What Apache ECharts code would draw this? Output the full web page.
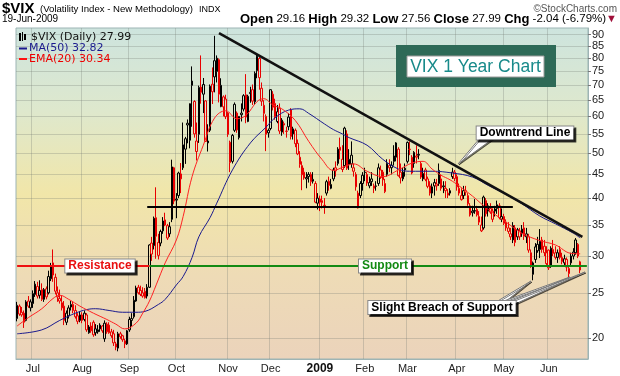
<!DOCTYPE html>
<html><head><meta charset="utf-8">
<script src="https://cdn.jsdelivr.net/npm/echarts@6/dist/echarts.min.js"></script>
<style>html,body{margin:0;padding:0;background:#fff;}#c{width:620px;height:376px;}</style>
</head><body><div id="c"></div>
<script>
// ---------- DATA ----------
const startDate = '2008-06-20';
const endDate = '2009-06-19';
const holidays = ['2008-07-04','2008-09-01','2008-11-27','2008-12-25','2009-01-01','2009-01-19','2009-02-16','2009-04-10','2009-05-25'];
const padCategories = ['+1','+2','+3'];
const monthNames = ['Jan','Feb','Mar','Apr','May','Jun','Jul','Aug','Sep','Oct','Nov','Dec'];
const yTicks = [20,25,30,35,40,45,50,55,60,65,70,75,80,85,90];
const yMinValue = 18.0, yMaxValue = 93.04;

const opens = [
22.0,23.4,22.7,22.6,21.8,24.0,23.2,23.7,24.8,25.8,
24.7,25.4,24.2,25.5,25.0,26.8,29.0,27.0,25.0,24.3,
23.8,23.4,21.6,22.3,23.3,23.6,22.9,22.3,21.8,22.4,
21.9,22.4,20.5,21.2,21.6,20.9,20.6,20.9,21.2,19.9,
21.4,21.3,20.6,20.4,19.4,19.0,20.4,20.2,19.7,19.4,
20.8,21.8,22.2,24.0,25.7,25.3,25.0,25.2,24.6,25.7,
32.0,31.6,36.3,30.1,32.0,34.0,35.9,34.9,33.5,36.0,
46.5,39.6,40.5,44.0,46.5,51.0,58.0,53.3,71.5,64.6,
50.4,54.9,69.4,67.0,64.8,52.6,56.0,70.4,73.0,75.0,
79.5,63.0,66.1,65.4,61.0,52.8,48.0,56.0,61.0,54.0,
60.5,62.2,66.8,58.5,67.2,68.5,64.5,75.3,80.0,69.0,
63.4,60.0,56.0,56.5,67.0,64.0,58.5,62.5,55.5,57.5,
55.8,57.0,62.0,55.0,56.0,52.5,49.0,47.0,45.5,44.0,
44.5,45.0,43.5,43.0,39.0,39.8,39.5,38.5,41.0,43.5,
42.0,44.0,46.5,47.5,51.5,48.5,47.0,55.0,48.5,49.5,
46.5,45.0,41.0,40.5,43.0,45.5,45.0,42.5,44.0,42.5,
42.5,43.0,46.0,45.5,43.0,45.0,47.0,46.5,48.0,49.0,
51.0,45.5,44.0,46.0,48.0,51.0,49.0,47.5,49.0,49.5,
47.5,44.0,46.0,44.0,42.5,41.0,42.5,42.5,43.0,44.0,
42.5,42.0,41.0,41.5,44.5,45.5,44.5,42.0,40.5,40.5,
41.5,40.5,38.5,37.5,37.5,37.8,36.5,35.0,34.5,39.5,
37.5,38.0,37.5,37.5,38.0,38.5,36.0,36.5,35.5,34.5,
33.5,32.5,34.5,33.0,34.0,33.5,34.5,33.0,33.0,30.5,
27.4,29.5,30.8,31.0,32.5,31.5,30.5,30.9,28.5,31.0,
30.5,29.8,31.0,29.8,29.0,29.5,27.5,29.0,30.0,30.5,
31.8,29.16];
const highs = [
23.9,23.6,23.3,22.9,24.1,24.6,24.2,25.3,26.5,26.4,
26.6,26.2,25.6,25.8,27.9,29.0,31.0,27.5,25.8,25.4,
24.6,24.0,22.9,23.5,24.0,23.9,23.5,22.6,22.8,22.7,
22.9,22.6,21.3,21.6,21.8,21.4,21.3,21.5,21.3,21.8,
21.6,21.6,20.9,20.8,19.6,20.6,20.6,20.3,19.9,20.8,
22.2,22.6,24.6,25.9,26.0,25.9,25.7,25.6,26.1,31.8,
33.0,36.5,42.2,33.5,34.2,36.4,37.2,35.2,35.5,48.4,
46.7,41.0,45.6,47.6,58.2,54.2,59.1,64.0,76.9,65.0,
58.2,69.9,81.2,72.6,65.0,57.7,70.3,76.5,89.5,81.2,
80.0,72.5,66.6,66.8,61.3,53.2,55.0,64.3,61.5,60.0,
64.0,67.0,74.0,66.8,69.5,70.3,75.0,81.5,81.4,71.0,
65.0,60.6,56.5,68.6,68.0,65.5,63.5,64.0,59.5,58.5,
57.0,61.0,62.5,57.0,56.5,53.5,50.5,48.0,46.5,45.5,
45.5,45.5,45.5,43.5,41.0,40.5,40.5,40.0,43.8,44.5,
44.0,46.5,48.0,51.5,54.0,52.0,57.0,56.0,51.0,53.0,
47.5,45.5,41.5,43.5,45.5,46.5,45.5,44.5,45.5,43.0,
43.5,47.5,47.0,46.0,44.0,48.5,48.5,48.0,52.0,52.8,
51.5,47.5,46.5,47.5,53.0,53.0,49.5,50.5,52.0,51.0,
48.0,46.5,46.5,44.5,43.5,43.0,44.0,44.0,47.5,45.0,
43.5,43.5,41.8,42.0,46.5,46.0,45.0,43.0,42.0,42.5,
42.5,41.0,39.0,38.5,39.8,38.5,37.5,36.5,40.5,40.0,
39.0,39.0,38.0,38.5,39.5,39.0,38.0,37.0,36.0,35.5,
34.5,35.5,35.0,34.5,34.5,35.0,35.5,34.5,33.5,31.0,
29.2,32.0,33.0,34.3,33.0,32.5,31.5,31.0,31.5,32.5,
31.5,31.0,31.5,30.5,30.2,29.8,28.6,30.5,31.2,32.8,
32.0,29.32];
const lows = [
21.7,22.3,22.2,21.0,21.7,23.2,22.8,23.2,24.5,24.3,
24.3,24.0,23.9,24.2,24.8,26.5,26.4,24.8,23.9,23.7,
22.9,21.3,21.3,22.0,22.9,22.6,22.0,21.4,21.6,21.5,
21.7,20.6,20.4,20.5,20.1,20.2,20.4,20.6,20.5,19.6,
20.4,20.4,20.0,19.2,18.8,18.7,19.9,19.6,19.0,19.3,
20.6,21.2,22.0,23.9,24.8,24.6,24.4,24.3,24.3,25.6,
29.3,31.0,29.6,29.5,31.5,33.5,34.8,32.5,33.0,35.5,
38.8,36.2,40.0,41.0,46.0,47.4,52.5,51.2,57.0,54.0,
48.2,52.6,63.9,61.0,52.9,50.4,55.5,63.8,67.6,71.0,
64.3,62.8,60.0,59.2,54.2,45.5,47.5,55.5,55.3,53.5,
58.5,61.5,58.0,58.3,64.2,63.5,63.5,72.5,68.5,63.2,
58.5,50.5,54.0,56.0,61.8,59.0,58.0,55.0,54.5,55.0,
54.0,56.0,53.5,53.5,51.5,49.5,46.5,41.6,43.8,42.0,
43.2,42.5,43.0,39.0,37.8,37.5,38.0,37.0,40.5,41.5,
41.8,43.5,44.5,47.0,48.5,45.5,46.5,46.0,46.0,46.5,
44.5,41.5,38.0,40.0,41.5,43.5,42.5,42.0,42.5,41.0,
41.5,42.5,44.0,42.5,41.0,44.5,45.5,45.0,47.0,48.0,
44.5,43.0,43.5,44.5,47.5,49.5,45.0,46.5,47.5,48.5,
44.0,43.5,43.5,42.0,40.5,40.0,40.5,41.5,42.5,41.5,
41.0,40.0,40.0,40.5,44.0,43.5,41.5,40.5,39.5,39.8,
40.5,38.5,36.5,36.5,37.0,36.5,35.0,33.8,34.2,36.5,
36.5,37.0,35.5,36.5,37.0,36.0,35.5,35.0,34.0,33.5,
32.5,32.0,31.5,32.5,32.5,33.0,32.5,32.0,30.5,28.3,
26.6,29.0,30.5,29.7,30.5,30.0,28.5,28.0,28.3,30.0,
29.5,29.0,29.5,28.8,28.5,27.8,26.7,28.5,29.5,30.2,
29.7,27.56];
const closes = [
23.5,22.5,22.4,21.6,23.9,23.4,23.9,24.9,26.1,24.6,
25.3,24.2,25.4,24.5,27.1,28.5,27.3,25.2,24.5,24.0,
23.2,21.8,22.6,23.2,23.6,22.9,22.2,21.7,22.4,21.8,
22.6,20.8,21.1,20.7,20.3,20.5,20.8,21.3,20.7,21.5,
20.6,20.5,20.2,19.5,19.1,20.4,20.1,19.8,19.4,20.7,
21.9,22.0,24.1,25.6,25.0,24.8,24.6,24.4,25.7,31.7,
30.3,36.2,33.1,32.1,33.9,35.7,35.0,32.8,34.7,46.7,
39.4,39.8,45.3,45.1,52.1,53.7,57.5,63.9,70.0,55.0,
53.1,69.3,67.6,70.3,53.0,53.1,69.7,67.8,79.1,80.1,
67.0,70.0,62.9,59.9,54.9,47.7,54.6,63.7,56.1,60.0,
61.0,66.5,59.8,66.3,67.6,64.7,74.3,80.9,72.7,64.7,
60.9,54.9,55.3,68.5,62.8,59.9,61.4,55.8,58.9,57.9,
55.7,59.8,54.3,56.4,52.4,49.8,47.3,44.9,44.2,44.3,
45.0,43.4,43.9,39.2,40.0,39.2,39.1,38.6,43.4,42.6,
42.8,46.0,45.8,51.0,50.7,46.1,56.6,46.4,47.3,47.4,
45.7,42.3,38.1,43.0,44.8,45.4,43.1,43.2,43.4,42.0,
42.4,46.5,44.3,43.8,41.3,47.5,46.5,47.1,49.3,52.6,
44.7,44.2,45.5,46.4,52.7,50.9,45.3,50.2,49.3,49.7,
44.4,45.2,43.9,42.4,41.0,42.3,43.2,42.9,45.9,42.0,
42.3,41.5,40.6,41.0,45.5,44.1,42.3,41.0,39.7,41.5,
41.2,38.9,36.8,37.2,37.6,36.8,35.5,34.0,40.2,37.0,
38.5,37.3,36.0,37.9,38.7,36.3,36.5,35.3,34.5,33.9,
33.0,34.9,32.1,34.2,33.0,34.3,33.1,33.5,30.9,28.5,
29.0,31.4,31.8,32.3,31.0,30.5,28.9,28.3,31.2,30.4,
29.8,30.5,29.8,29.2,29.6,28.4,28.2,30.0,30.6,32.5,
30.0,27.99];

const maDates = ['2008-06-20','2008-07-08','2008-07-18','2008-07-29','2008-08-05','2008-08-11','2008-08-19','2008-08-27','2008-09-05','2008-09-11','2008-09-19','2008-09-24','2008-10-01','2008-10-06','2008-10-10','2008-10-15','2008-10-22','2008-10-27','2008-11-05','2008-11-17','2008-11-26','2008-12-03','2008-12-11','2008-12-18','2008-12-24','2009-01-06','2009-01-12','2009-01-16','2009-01-22','2009-02-03','2009-02-12','2009-02-24','2009-03-03','2009-03-17','2009-03-30','2009-04-13','2009-04-22','2009-05-04','2009-05-13','2009-05-26','2009-06-04','2009-06-16','2009-06-19'];
const maValues = [20.4,20.8,21.8,22.6,23.0,23.1,22.9,22.7,22.7,22.8,23.6,24.2,26.0,27.1,29.8,33.0,36.3,39.0,46.0,52.6,56.9,59.6,61.9,62.3,60.9,57.8,56.2,55.0,54.0,52.0,48.5,46.2,45.7,45.7,45.3,44.4,42.6,40.7,38.9,36.6,35.2,33.6,32.82];

const emaDates = ['2008-06-20','2008-06-27','2008-07-08','2008-07-15','2008-07-18','2008-07-24','2008-07-31','2008-08-08','2008-08-18','2008-08-22','2008-08-28','2008-09-05','2008-09-10','2008-09-15','2008-09-18','2008-09-24','2008-10-01','2008-10-06','2008-10-10','2008-10-17','2008-10-24','2008-10-31','2008-11-07','2008-11-13','2008-11-20','2008-11-25','2008-12-02','2008-12-08','2008-12-16','2008-12-24','2009-01-05','2009-01-12','2009-01-20','2009-01-26','2009-02-03','2009-02-12','2009-02-24','2009-03-04','2009-03-11','2009-03-17','2009-03-23','2009-03-27','2009-04-02','2009-04-13','2009-04-22','2009-05-04','2009-05-13','2009-05-26','2009-06-04','2009-06-15','2009-06-19'];
const emaValues = [21.2,22.1,23.1,24.3,24.7,24.2,23.4,22.6,21.9,21.4,20.9,21.5,22.6,24.0,26.0,29.0,32.5,36.5,44.5,52.0,59.5,61.7,59.3,60.3,64.6,65.5,63.5,62.3,58.8,53.0,48.4,45.9,46.8,47.4,45.7,44.5,46.0,47.6,48.0,46.2,44.8,43.8,42.5,40.4,37.8,35.5,33.6,32.4,31.7,30.4,30.34];

const supportLevel = 28.6;
const supportStart = '2008-09-15';
const midLevel = 38.3, midStart = '2008-09-12', midEnd = '2009-05-07';
const trendStart = ['2008-10-28', 90.7], trendEnd = ['+1', 33.0];

const headerTitle = '$VIX', headerName = '(Volatility Index - New Methodology)', headerExch = 'INDX';
const headerDate = '19-Jun-2009', headerCredit = '\u00a9StockCharts.com';
const quote = {Open:'29.16', High:'29.32', Low:'27.56', Close:'27.99', Chg:'-2.04 (-6.79%)'};
const legendTexts = ['$VIX (Daily) 27.99','MA(50) 32.82','EMA(20) 30.34'];

// ---------- BUILD ----------
function fmt(d){return d.toISOString().slice(0,10);}
const dates = [];
for (let d = new Date(startDate+'T00:00:00Z'); fmt(d) <= endDate; d.setUTCDate(d.getUTCDate()+1)) {
  const wd = d.getUTCDay(), s = fmt(d);
  if (wd===0 || wd===6 || holidays.includes(s)) continue;
  dates.push(s);
}
const categories = dates.concat(padCategories);
const monthStart = new Set();
for (let i=1;i<dates.length;i++) if (dates[i].slice(5,7)!==dates[i-1].slice(5,7)) monthStart.add(i);

const L = Math.log;
const BLACK = '#000000', RED = '#e80000';
const candleData = dates.map((d,i)=>{
  const up = i===0 || closes[i] >= closes[i-1];
  const c = up ? BLACK : RED;
  return {value:[L(opens[i]), L(closes[i]), L(lows[i]), L(highs[i])],
    itemStyle:{color:'rgba(0,0,0,0)', color0:c, borderColor:c, borderColor0:c, borderColorDoji:c}};
});
const maData = maDates.map((d,k)=>[d, L(maValues[k])]);
const emaData = emaDates.map((d,k)=>[d, L(emaValues[k])]);

const chart = echarts.init(document.getElementById('c'), null, {renderer:'canvas'});
const gridColor = 'rgba(110,120,110,0.28)';
const boxStyle = {backgroundColor:'#fff', borderColor:'#888', borderWidth:1, padding:[1,3,0,3],
  shadowColor:'rgba(0,0,0,0.75)', shadowOffsetX:2, shadowOffsetY:2, shadowBlur:0};

const quoteRich = Object.keys(quote).map(k=>'{b|'+k+'} '+quote[k]).join(' ') + '{a|\u25bc}';

chart.setOption({
  animation:false,
  grid:{left:16, right:32, top:28, bottom:17, show:true,
    backgroundColor: new echarts.graphic.LinearGradient(0,0,0,1,[
      {offset:0, color:'#cde4de'},{offset:0.25, color:'#dee8cd'},{offset:0.5, color:'#f1e6a9'},
      {offset:0.75, color:'#eedbb6'},{offset:1, color:'#ebd3bb'}]),
    borderColor:'#9db4b4', borderWidth:1},
  xAxis:{type:'category', data:categories, boundaryGap:true,
    axisLine:{show:true, lineStyle:{color:'#9db4b4'}},
    axisTick:{show:false},
    axisLabel:{interval:(i)=>monthStart.has(i), margin:4, color:'#222', fontSize:11, fontFamily:'Liberation Sans',
      formatter:(v)=>{const m=parseInt(v.slice(5,7),10); return m===1 ? '{b|'+v.slice(0,4)+'}' : monthNames[m-1];},
      rich:{b:{fontWeight:'bold', fontSize:12, fontFamily:'Liberation Sans', color:'#111'}}},
    splitLine:{show:true, interval:(i)=>monthStart.has(i), lineStyle:{color:gridColor, width:1}}},
  yAxis:{type:'value', position:'right', min:L(yMinValue), max:L(yMaxValue),
    axisLine:{show:true, lineStyle:{color:'#9db4b4'}},
    axisTick:{show:true, customValues:yTicks.map(L), length:3, lineStyle:{color:'#777'}},
    axisLabel:{customValues:yTicks.map(L), formatter:(v)=>String(Math.round(Math.exp(v))), margin:4,
      color:'#222', fontSize:11, fontFamily:'Liberation Sans'},
    splitLine:{show:true, lineStyle:{color:gridColor, width:1}}},
  series:[
    {type:'candlestick', data:candleData, barWidth:2, itemStyle:{borderWidth:1}, z:2},
    {type:'line', data:maData, smooth:0.4, showSymbol:false, symbol:'none', z:3,
      lineStyle:{color:'#1a1a8e', width:1}},
    {type:'line', data:emaData, smooth:0.4, showSymbol:false, symbol:'none', z:3,
      lineStyle:{color:'#ff2222', width:1}},
    {type:'line', data:[], z:5, markLine:{silent:true, symbol:['none','none'], label:{show:false}, animation:false,
      data:[
        [{coord:[dates[0], L(supportLevel)], lineStyle:{color:'#ee1111', width:2, type:'solid'}}, {coord:[supportStart, L(supportLevel)]}],
        [{coord:[supportStart, L(supportLevel)], lineStyle:{color:'#138a13', width:2, type:'solid'}}, {coord:[padCategories[2], L(supportLevel)]}],
        [{coord:[midStart, L(midLevel)], lineStyle:{color:'#000', width:2, type:'solid'}}, {coord:[midEnd, L(midLevel)]}],
        [{coord:[trendStart[0], L(trendStart[1])], lineStyle:{color:'#111', width:2.5, type:'solid'}}, {coord:[trendEnd[0], L(trendEnd[1])]}]
      ]}}
  ],
  graphic:[
    // header
    {type:'text', x:2, y:9, z:50, style:{text:headerTitle, font:'bold 15px Arial', fill:'#000', verticalAlign:'middle'}},
    {type:'text', x:40, y:9.5, z:50, style:{text:headerName, font:'9.6px Arial', fill:'#000', verticalAlign:'middle'}},
    {type:'text', x:199, y:9.5, z:50, style:{text:headerExch, font:'9px Arial', fill:'#000', verticalAlign:'middle'}},
    {type:'text', x:617, y:9, z:50, style:{text:headerCredit, font:'10px Arial', fill:'#555', align:'right', verticalAlign:'middle'}},
    {type:'text', x:2, y:19, z:50, style:{text:headerDate, font:'10px Arial', fill:'#000', verticalAlign:'middle'}},
    {type:'text', x:617, y:19, z:50, style:{text:quoteRich, font:'11.5px Arial', fill:'#000', align:'right', verticalAlign:'middle',
      rich:{b:{font:'bold 13px Arial', fill:'#000'}, a:{font:'11px Arial', fill:'#a0103a'}}}},
    // legend
    {type:'rect', z:50, shape:{x:19, y:33, width:2, height:8}, style:{fill:'#000'}},
    {type:'rect', z:50, shape:{x:22, y:32, width:1, height:9}, style:{fill:'#000'}},
    {type:'rect', z:50, shape:{x:24, y:34, width:2, height:6}, style:{fill:'#000'}},
    {type:'text', x:31, y:37.5, z:50, style:{text:legendTexts[0], font:'11px "DejaVu Sans"', fill:'#111', verticalAlign:'middle'}},
    {type:'rect', z:50, shape:{x:19, y:47.5, width:8, height:2}, style:{fill:'#1a1a8e'}},
    {type:'text', x:29, y:48.5, z:50, style:{text:legendTexts[1], font:'11px "DejaVu Sans"', fill:'#1a1a8e', verticalAlign:'middle'}},
    {type:'rect', z:50, shape:{x:19, y:58, width:8, height:2}, style:{fill:'#ff1111'}},
    {type:'text', x:29, y:59, z:50, style:{text:legendTexts[2], font:'11px "DejaVu Sans"', fill:'#ee0000', verticalAlign:'middle'}},
    // title box
    {type:'rect', z:60, shape:{x:396, y:45, width:160, height:42}, style:{fill:'#2e6a57'}},
    {type:'rect', z:61, shape:{x:407, y:56, width:137, height:21}, style:{fill:'#fff', stroke:'#9a9a9a', lineWidth:1}},
    {type:'text', x:475.5, y:67, z:62, style:{text:'VIX 1 Year Chart', font:'17.5px Arial', fill:'#188a8a', align:'center', verticalAlign:'middle'}},
    // pointers
    {type:'polygon', z:70, shape:{points:[[480,138],[494,138],[458,164]]}, style:{fill:'#fff', stroke:'#777', lineWidth:1, shadowColor:'rgba(0,0,0,0.5)', shadowOffsetX:1, shadowOffsetY:1}},
    {type:'polygon', z:70, shape:{points:[[496,302],[505,302],[531,281]]}, style:{fill:'#fff', stroke:'#777', lineWidth:1, shadowColor:'rgba(0,0,0,0.5)', shadowOffsetX:1, shadowOffsetY:1}},
    {type:'polygon', z:70, shape:{points:[[501,302],[511,302],[570,277]]}, style:{fill:'#fff', stroke:'#777', lineWidth:1, shadowColor:'rgba(0,0,0,0.5)', shadowOffsetX:1, shadowOffsetY:1}},
    {type:'polygon', z:70, shape:{points:[[506,303],[513,305],[585,272]]}, style:{fill:'#fff', stroke:'#777', lineWidth:1, shadowColor:'rgba(0,0,0,0.5)', shadowOffsetX:1, shadowOffsetY:1}},
    // label boxes
    {type:'text', x:100, y:266, z:80, style:Object.assign({text:'Resistance', font:'bold 12px Arial', fill:'#e81010', align:'center', verticalAlign:'middle'}, boxStyle)},
    {type:'text', x:385, y:266, z:80, style:Object.assign({text:'Support', font:'bold 12px Arial', fill:'#138a13', align:'center', verticalAlign:'middle'}, boxStyle)},
    {type:'text', x:442, y:307.5, z:80, style:Object.assign({text:'Slight Breach of Support', font:'bold 12px Arial', fill:'#000', align:'center', verticalAlign:'middle'}, boxStyle)},
    {type:'text', x:525, y:133, z:80, style:Object.assign({text:'Downtrend Line', font:'bold 12px Arial', fill:'#000', align:'center', verticalAlign:'middle'}, boxStyle)}
  ]
});
</script></body></html>
